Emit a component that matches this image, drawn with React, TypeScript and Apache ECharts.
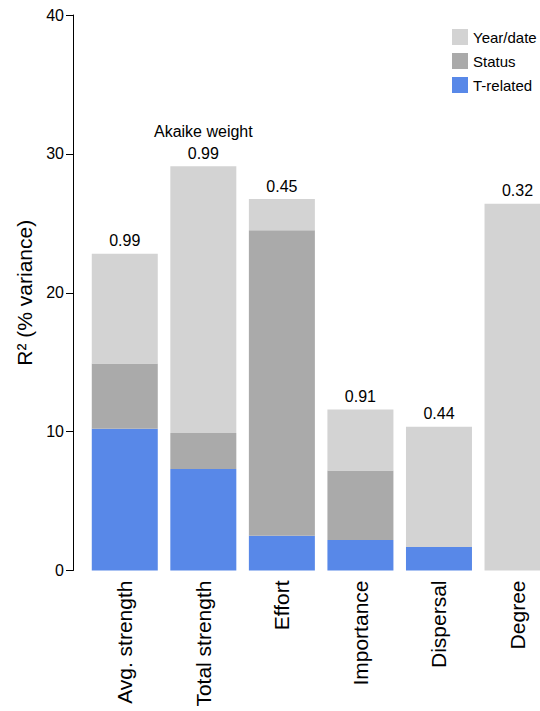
import React, { useEffect, useRef } from "react";
import * as echarts from "echarts";

const categories = ["Avg. strength", "Total strength", "Effort", "Importance", "Dispersal", "Degree"];
const tRelated = [10.2, 7.3, 2.5, 2.2, 1.7, 0];
const status = [4.7, 2.6, 22.0, 5.0, 0, 0];
const yearDate = [7.9, 19.2, 2.25, 4.4, 8.65, 26.4];
const akaikeWeights = ["0.99", "0.99", "0.45", "0.91", "0.44", "0.32"];
const akaikeTitle = "Akaike weight";
const yTicks = [0, 10, 20, 30, 40];

const FONT = "'Liberation Sans', Arial, Helvetica, sans-serif";

export default function App() {
  const ref = useRef<HTMLDivElement>(null);
  useEffect(() => {
    if (!ref.current) return;
    const chart = echarts.init(ref.current, undefined, { renderer: "svg" });
    chart.setOption({
      animation: false,
      textStyle: { fontFamily: FONT, color: "#000" },
      legend: {
        orient: "vertical",
        left: 447,
        top: 24,
        itemWidth: 16,
        itemHeight: 16,
        itemGap: 8,
        icon: "rect",
        data: ["Year/date", "Status", "T-related"],
        textStyle: { fontSize: 15, color: "#000", fontFamily: FONT },
      },
      grid: {
        left: 85.5,
        right: -16.8,
        top: 15,
        bottom: 140.5,
        outerBoundsMode: "none",
        containLabel: false,
      },
      xAxis: {
        type: "category",
        data: categories,
        axisLine: { show: false },
        axisTick: { show: false },
        axisLabel: {
          rotate: 90,
          fontSize: 21,
          color: "#000",
          margin: 10,
          fontFamily: FONT,
          interval: 0,
        },
      },
      yAxis: {
        type: "value",
        min: yTicks[0],
        max: yTicks[yTicks.length - 1],
        interval: 10,
        offset: 12.5,
        name: "R\u00B2 (% variance)",
        nameLocation: "middle",
        nameGap: 35,
        nameTextStyle: { fontSize: 21, color: "#000", fontFamily: FONT },
        axisLine: { show: true, lineStyle: { color: "#000", width: 1 } },
        axisTick: { show: true, length: 7, lineStyle: { color: "#000", width: 1 } },
        axisLabel: { fontSize: 16, color: "#000", margin: 9, fontFamily: FONT },
        splitLine: { show: false },
      },
      series: [
        {
          name: "T-related",
          type: "bar",
          stack: "r2",
          data: tRelated,
          barWidth: 66,
          itemStyle: { color: "#5888e8" },
        },
        {
          name: "Status",
          type: "bar",
          stack: "r2",
          data: status,
          barWidth: 66,
          itemStyle: { color: "#aaaaaa" },
        },
        {
          name: "Year/date",
          type: "bar",
          stack: "r2",
          data: yearDate,
          barWidth: 66,
          itemStyle: { color: "#d3d3d3" },
          label: {
            show: true,
            position: "top",
            distance: 2,
            fontSize: 16,
            lineHeight: 22,
            color: "#000",
            fontFamily: FONT,
            formatter: (p: any) =>
              p.dataIndex === 1
                ? akaikeTitle + "\n" + akaikeWeights[p.dataIndex]
                : akaikeWeights[p.dataIndex],
          },
        },
      ],
    });
    return () => chart.dispose();
  }, []);
  return (
    <div
      ref={ref}
      style={{ position: "fixed", left: 0, top: 0, width: 540, height: 711, background: "#fff" }}
    />
  );
}
